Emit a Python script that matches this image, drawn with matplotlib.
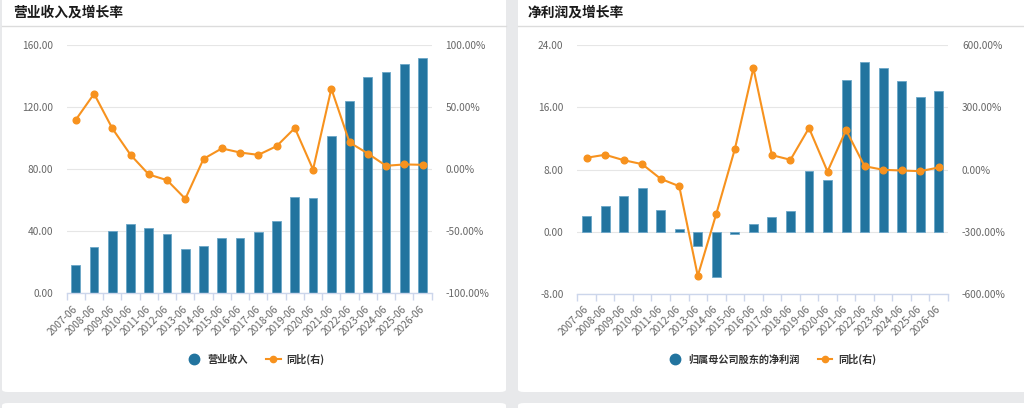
"""
营业收入 / 净利润 及增长率 — two-panel bar + line chart
"""

import numpy as np
import matplotlib
matplotlib.use('Agg')
import matplotlib.pyplot as plt
from matplotlib.patches import FancyBboxPatch
from matplotlib.lines import Line2D
from matplotlib.ticker import FixedLocator, FuncFormatter

plt.rcParams['font.family'] = ['Noto Sans CJK SC', 'DejaVu Sans']

# ============================================================
# DATA
# ============================================================
PERIODS = ['2007-06', '2008-06', '2009-06', '2010-06', '2011-06',
           '2012-06', '2013-06', '2014-06', '2015-06', '2016-06',
           '2017-06', '2018-06', '2019-06', '2020-06', '2021-06',
           '2022-06', '2023-06', '2024-06', '2025-06', '2026-06']

REVENUE = [18.3, 30.1, 40.2, 44.7, 42.3, 38.5, 28.4, 30.7, 35.7, 35.7,
           39.5, 46.9, 61.9, 61.3, 101.5, 123.6, 139.4, 142.8, 147.7, 151.6]
REVENUE_YOY = [39.8, 60.7, 32.8, 11.5, -4.3, -8.9, -23.9, 8.3, 16.7, 13.4,
               11.5, 18.5, 33.1, -0.3, 64.8, 21.5, 12.6, 2.7, 3.8, 3.5]

PROFIT = [1.97, 3.27, 4.60, 5.68, 2.84, 0.39, -1.86, -5.86, -0.30, 1.03,
          1.85, 2.62, 7.82, 6.71, 19.5, 21.8, 21.07, 19.43, 17.3, 18.1]
PROFIT_YOY = [56.6, 71.0, 45.0, 25.8, -45.0, -80.6, -513.0, -213.0, 98.4, 488.7,
              69.2, 46.8, 200.0, -9.7, 190.0, 16.0, -1.5, -4.8, -8.0, 9.7]

LEFT_TICKS_1 = [0, 40, 80, 120, 160]
RIGHT_TICKS_1 = [-100, -50, 0, 50, 100]
LEFT_TICKS_2 = [-8, 0, 8, 16, 24]
RIGHT_TICKS_2 = [-600, -300, 0, 300, 600]

# ============================================================
# STYLE
# ============================================================
W, H = 1024, 408
BG = '#e8e9eb'
BAR_C = '#22749f'
BAR_EDGE = '#6aa6c8'
LINE_C = '#f7921e'
AXIS_C = '#ccd6eb'
GRID_C = '#e6e6e6'
TICK_C = '#666666'


def fig_rect(x0, y0, x1, y1):
    return [x0 / W, 1 - y1 / H, (x1 - x0) / W, (y1 - y0) / H]


def card(fig, x0, y0, x1, y1):
    box = FancyBboxPatch((x0 / W, 1 - y1 / H), (x1 - x0) / W, (y1 - y0) / H,
                         boxstyle='round,pad=0,rounding_size=0.006',
                         transform=fig.transFigure, facecolor='white',
                         edgecolor='none', zorder=-2)
    fig.patches.append(box)


def panel(fig, rect, title, title_x, bars, yoy, lticks, rticks, bar_label, legend_x):
    x = np.arange(len(PERIODS))
    ax = fig.add_axes(fig_rect(*rect))
    ax.set_zorder(2)
    ax.set_facecolor('none')
    ax.bar(x, bars, width=0.48, color=BAR_C, edgecolor=BAR_EDGE, linewidth=0.6, zorder=3)
    ax.set_xlim(-0.5, len(PERIODS) - 0.5)
    ax.set_ylim(lticks[0], lticks[-1])
    ax.set_yticks(lticks)
    ax.yaxis.set_major_formatter(FuncFormatter(lambda v, p: f'{v:.2f}'))
    ax.yaxis.grid(True, color=GRID_C, linewidth=0.8, zorder=0)
    ax.set_axisbelow(True)
    for s in ['top', 'left', 'right']:
        ax.spines[s].set_visible(False)
    ax.spines['bottom'].set_color(AXIS_C)
    ax.spines['bottom'].set_linewidth(1.0)
    ax.spines['bottom'].set_zorder(4)
    ax.tick_params(axis='y', length=0, pad=10, labelsize=7.3, labelcolor=TICK_C)

    ax.set_xticks(x)
    ax.set_xticklabels(PERIODS, rotation=45, ha='right', va='center',
                       rotation_mode='anchor')
    ax.tick_params(axis='x', which='major', length=0, pad=10, labelsize=7.3,
                   labelcolor=TICK_C)
    ax.xaxis.set_minor_locator(FixedLocator(np.arange(-0.5, len(PERIODS), 1.0)))
    ax.tick_params(axis='x', which='minor', length=5, width=1.0, color=AXIS_C)

    ax2 = ax.twinx()
    ax2.set_zorder(3)
    ax2.plot(x, yoy, '-o', color=LINE_C, linewidth=1.5, markersize=4.8, zorder=5)
    ax2.set_ylim(rticks[0], rticks[-1])
    ax2.set_yticks(rticks)
    ax2.yaxis.set_major_formatter(FuncFormatter(lambda v, p: f'{v:.2f}%'))
    ax2.tick_params(axis='y', length=0, pad=10, labelsize=7.3, labelcolor=TICK_C)
    for s in ax2.spines.values():
        s.set_visible(False)

    fig.text(title_x / W, 1 - 12.5 / H, title, fontsize=9.9, fontweight='bold',
             color='#1a1a1a', va='center', ha='left')

    handles = [Line2D([], [], marker='o', linestyle='none', color=BAR_C, markersize=7.5),
               Line2D([], [], marker='o', color=LINE_C, linewidth=1.5, markersize=4.5)]
    fig.legend(handles, [bar_label, '同比(右)'], loc='center',
               bbox_to_anchor=(legend_x / W, 1 - 359 / H), ncol=2, frameon=False,
               prop={'size': 7.3, 'weight': 'bold'}, labelcolor='#333333',
               handlelength=1.4, handletextpad=0.6, columnspacing=1.8)
    return ax, ax2


# ============================================================
# PLOT
# ============================================================
fig = plt.figure(figsize=(W / 100, H / 100), dpi=100)
fig.patch.set_facecolor(BG)

card(fig, 2, -10, 506, 392)
card(fig, 518, -10, 1034, 392)
card(fig, 2, 403, 506, 420)
card(fig, 518, 403, 1034, 420)
for x0, x1 in [(2, 506), (518, 1024)]:
    fig.add_artist(Line2D([x0 / W, x1 / W], [1 - 26 / H, 1 - 26 / H],
                          color='#dcdcdc', linewidth=1.0, transform=fig.transFigure,
                          zorder=-1))

panel(fig, (66.7, 45, 431.7, 293.3), '营业收入及增长率', 13,
      REVENUE, REVENUE_YOY, LEFT_TICKS_1, RIGHT_TICKS_1, '营业收入', 256)
panel(fig, (577.3, 45, 948, 294), '净利润及增长率', 528,
      PROFIT, PROFIT_YOY, LEFT_TICKS_2, RIGHT_TICKS_2, '归属母公司股东的净利润', 772)

plt.savefig('out.png', dpi=100, facecolor=fig.get_facecolor())
